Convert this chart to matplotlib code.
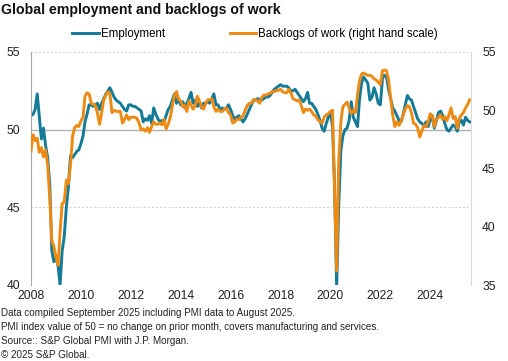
import numpy as np
import pandas as pd
import matplotlib
matplotlib.use('Agg')
import matplotlib.pyplot as plt
import matplotlib.dates as mdates

plt.rcParams['font.family'] = ['Liberation Sans', 'DejaVu Sans']

# monthly PMI readings, Jan 2008 - Aug 2025
employment = [
    50.9, 51.0, 51.3, 52.3, 50.9, 49.4, 50.1, 49.0, 48.2, 46.5, 42.2, 41.5,  # 2008
    41.8, 41.2, 40.0, 42.2, 43.1, 45.0, 46.3, 48.3, 48.2, 48.4, 48.6, 48.7,  # 2009
    49.1, 49.6, 50.5, 51.0, 51.6, 51.6, 51.5, 51.6, 51.7, 51.3, 51.7, 52.0,  # 2010
    52.3, 52.5, 52.7, 52.4, 52.1, 51.9, 51.8, 51.7, 51.5, 51.3, 51.2, 51.6,  # 2011
    51.6, 51.5, 51.5, 51.4, 51.3, 51.2, 50.5, 50.7, 50.6, 50.9, 50.4, 51.4,  # 2012
    51.0, 50.7, 50.5, 50.6, 50.5, 50.9, 51.3, 51.5, 51.9, 52.3, 51.7, 52.0,  # 2013
    51.6, 51.8, 51.4, 51.7, 52.0, 52.4, 51.7, 51.9, 51.5, 51.7, 51.4, 51.7,  # 2014
    51.7, 51.8, 51.7, 52.0, 52.3, 51.6, 51.6, 51.3, 51.4, 51.3, 51.4, 51.6,  # 2015
    51.3, 50.9, 50.7, 50.8, 50.9, 50.7, 50.5, 50.7, 51.0, 51.3, 51.6, 51.9,  # 2016
    51.9, 52.0, 51.9, 51.9, 52.0, 52.1, 52.1, 52.2, 52.4, 52.6, 52.7, 52.8,  # 2017
    52.9, 52.8, 52.8, 52.8, 52.7, 52.5, 52.5, 52.6, 52.4, 52.2, 52.0, 51.8,  # 2018
    52.0, 52.4, 51.7, 51.7, 51.5, 51.3, 51.0, 50.6, 50.1, 49.9, 50.4, 50.8,  # 2019
    51.1, 50.2, 46.5, 39.9, 45.0, 48.6, 49.6, 50.0, 50.1, 50.6, 51.8, 50.8,  # 2020
    50.5, 50.2, 51.9, 53.0, 53.4, 53.2, 53.0, 51.9, 52.1, 52.7, 52.3, 51.7,  # 2021
    51.6, 53.3, 53.5, 53.4, 52.6, 52.0, 51.4, 51.2, 50.9, 50.6, 50.5, 51.0,  # 2022
    51.6, 52.2, 52.0, 51.9, 51.5, 51.1, 50.7, 50.5, 50.4, 50.2, 50.5, 50.2,  # 2023
    50.6, 50.9, 50.1, 50.6, 51.1, 51.2, 50.9, 50.4, 50.0, 49.9, 50.1, 50.3,  # 2024
    50.2, 49.9, 50.5, 50.6, 50.3, 50.8, 50.6, 50.5,                          # 2025
]
backlogs = [
    46.5, 47.9, 47.4, 47.6, 46.4, 46.8, 46.0, 46.6, 45.3, 42.5, 38.8, 38.3,  # 2008
    37.4, 36.7, 39.5, 42.0, 42.1, 44.0, 43.7, 45.3, 47.8, 48.5, 48.7, 48.6,  # 2009
    49.1, 49.4, 51.2, 51.5, 51.4, 50.6, 50.5, 50.4, 49.7, 48.8, 49.8, 50.9,  # 2010
    51.3, 51.6, 51.4, 49.8, 50.0, 49.9, 49.9, 49.9, 48.9, 49.2, 49.6, 49.2,  # 2011
    49.4, 49.4, 49.4, 49.3, 48.9, 48.3, 48.4, 48.2, 48.5, 48.1, 48.6, 49.0,  # 2012
    48.8, 48.8, 48.9, 48.75, 49.2, 48.4, 48.8, 49.4, 50.4, 51.3, 51.6, 50.9, # 2013
    50.8, 50.3, 50.4, 49.9, 50.8, 50.45, 50.1, 50.4, 51.2, 50.8, 50.3, 50.1, # 2014
    50.6, 50.9, 50.9, 51.0, 50.3, 49.9, 50.1, 49.9, 49.9, 50.1, 50.2, 49.8,  # 2015
    49.6, 48.9, 49.0, 49.25, 49.2, 49.4, 49.5, 50.0, 50.4, 50.6, 50.6, 50.9, # 2016
    50.9, 50.8, 50.6, 51.1, 51.3, 51.3, 51.4, 51.45, 51.6, 51.6, 51.7, 51.7, # 2017
    51.8, 51.6, 51.5, 51.5, 51.8, 51.5, 51.0, 50.9, 50.8, 50.9, 50.4, 49.8,  # 2018
    50.1, 50.0, 50.1, 49.9, 49.6, 49.5, 49.2, 49.0, 48.9, 49.4, 49.6, 49.7,  # 2019
    49.9, 50.0, 43.5, 36.2, 45.5, 48.9, 50.3, 50.5, 50.7, 50.2, 49.7, 50.0,  # 2020
    49.8, 51.3, 52.5, 53.1, 53.2, 53.1, 53.0, 53.0, 52.9, 52.7, 52.6, 52.4,  # 2021
    52.2, 53.4, 53.45, 53.4, 52.6, 51.0, 49.6, 48.6, 49.0, 48.7, 49.1, 49.6, # 2022
    50.1, 50.4, 50.3, 49.8, 48.9, 48.8, 48.5, 47.7, 48.2, 48.7, 48.6, 49.0,  # 2023
    49.7, 49.5, 48.6, 49.2, 49.4, 49.6, 49.2, 49.45, 49.1, 49.6, 50.2, 49.3, # 2024
    49.45, 48.45, 49.3, 49.6, 49.8, 50.2, 50.5, 50.9,                        # 2025
]
dates = pd.date_range('2008-01-01', periods=len(employment), freq='MS')

title = 'Global employment and backlogs of work'
footer = [
    'Data compiled September 2025 including PMI data to August 2025.',
    'PMI index value of 50 = no change on prior month, covers manufacturing and services.',
    'Source:: S&P Global PMI with J.P. Morgan.',
    '\u00a9 2025 S&P Global.',
]

blue = '#137a97'
orange = '#ee8a12'

fig = plt.figure(figsize=(5.08, 3.61), dpi=100)
ax = fig.add_axes([31/508, 1-285/361, 440/508, 233/361])
ax2 = ax.twinx()

l1, = ax.plot(dates, employment, color=blue, lw=2.1, label='Employment')
l2, = ax2.plot(dates, backlogs, color=orange, lw=2.1, label='Backlogs of work (right hand scale)')

ax.set_ylim(40, 55)
ax2.set_ylim(35, 55)
ax.set_yticks([40, 45, 50, 55])
ax2.set_yticks([35, 40, 45, 50, 55])
ax.set_xlim(pd.Timestamp('2008-01-01'), pd.Timestamp('2025-08-20'))
ax.xaxis.set_major_locator(mdates.YearLocator(2))
ax.xaxis.set_major_formatter(mdates.DateFormatter('%Y'))

for y in [40, 45, 55]:
    ax.axhline(y, color='#d0d0d0', lw=0.7, ls=(0, (2, 2)), zorder=0)
ax.axhline(50, color='#b0b0b0', lw=1.0, zorder=0)

for a in (ax, ax2):
    for s in ['top', 'bottom']:
        a.spines[s].set_visible(False)
ax.spines['left'].set_color('#a6a6a6')
ax.spines['right'].set_visible(False)
ax2.spines['left'].set_visible(False)
ax2.spines['right'].set_color('#d9d9d9')

ax.tick_params(axis='y', length=0, pad=8, labelsize=8.7, colors='#222222')
ax2.tick_params(axis='y', length=0, pad=8, labelsize=8.7, colors='#222222')
ax.tick_params(axis='x', length=0, pad=3.5, labelsize=8.7, colors='#222222')

fig.text(0.002, 1-10/361, title, fontsize=10.2, fontweight='bold', va='center', ha='left', color='#111111')
fig.legend(handles=[l1, l2], loc='center', bbox_to_anchor=(255/508, 1-34/361), ncol=2,
           frameon=False, fontsize=8.3, handlelength=2.3, handletextpad=0.2,
           columnspacing=5.6, borderpad=0)

for i, line in enumerate(footer):
    fig.text(0.002, 1-(313+14*i)/361, line, fontsize=7.15, va='center', ha='left', color='#222222')

fig.savefig('out.png', dpi=100)
